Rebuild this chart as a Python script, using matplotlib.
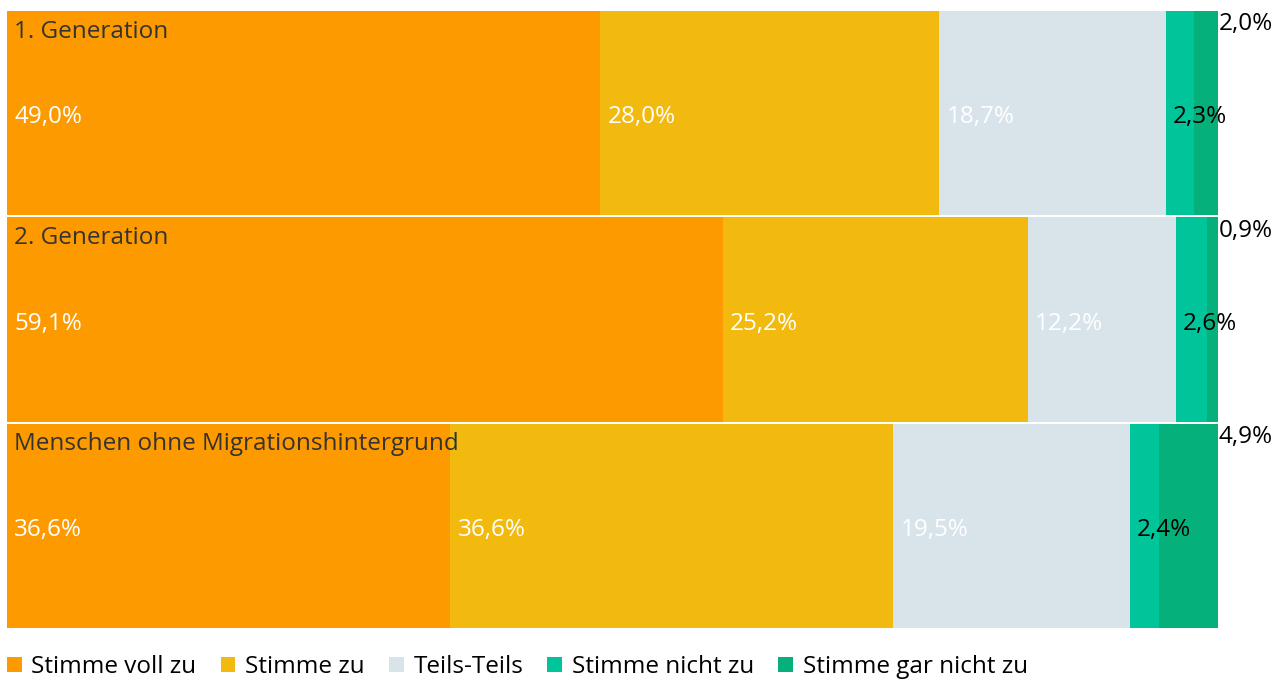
import numpy as np
import matplotlib.pyplot as plt

plt.rcParams['font.family'] = ['Open Sans', 'DejaVu Sans']

groups = ["1. Generation", "2. Generation", "Menschen ohne Migrationshintergrund"]
answers = ["Stimme voll zu", "Stimme zu", "Teils-Teils", "Stimme nicht zu", "Stimme gar nicht zu"]
values = np.array([
    [49.0, 28.0, 18.7, 2.3, 2.0],
    [59.1, 25.2, 12.2, 2.6, 0.9],
    [36.6, 36.6, 19.5, 2.4, 4.9],
])
colors = ["#FD9A00", "#F2B90F", "#D9E4EA", "#00C49A", "#05B07A"]
text_colors = ["white", "white", "white", "black", "black"]
fs = 17.5


def fmt(v):
    return f"{v:.1f}%".replace(".", ",")


fig = plt.figure(figsize=(12.86, 6.79), dpi=100)
ax = fig.add_axes([7 / 1286, 50 / 679, 1211 / 1286, 619 / 679])

y = np.arange(len(groups))
left = np.zeros(len(groups))
for j, name in enumerate(answers):
    ax.barh(y, values[:, j], left=left, height=0.99, color=colors[j], label=name)
    for i in range(len(groups)):
        v = values[i, j]
        if j == len(answers) - 1:
            # last segment: label sits outside, top right
            ax.text(100.05, y[i] - 0.43, fmt(v), color="black", fontsize=fs,
                    ha="left", va="center")
        else:
            ax.text(left[i] + 0.6, y[i] + 0.02, fmt(v), color=text_colors[j],
                    fontsize=fs, ha="left", va="center")
    left += values[:, j]

for i, g in enumerate(groups):
    ax.text(0.6, y[i] - 0.395, g, color="#333333", fontsize=fs, ha="left", va="center")

ax.set_xlim(0, 100)
ax.set_ylim(2.5, -0.5)
ax.axis("off")

ax.legend(loc="upper left", bbox_to_anchor=(0.0, -0.042), ncol=5, frameon=False,
          fontsize=fs, handlelength=0.6, handleheight=0.6, handletextpad=0.4,
          columnspacing=1.0, borderaxespad=0, borderpad=0)

fig.savefig("out.png", dpi=100)
